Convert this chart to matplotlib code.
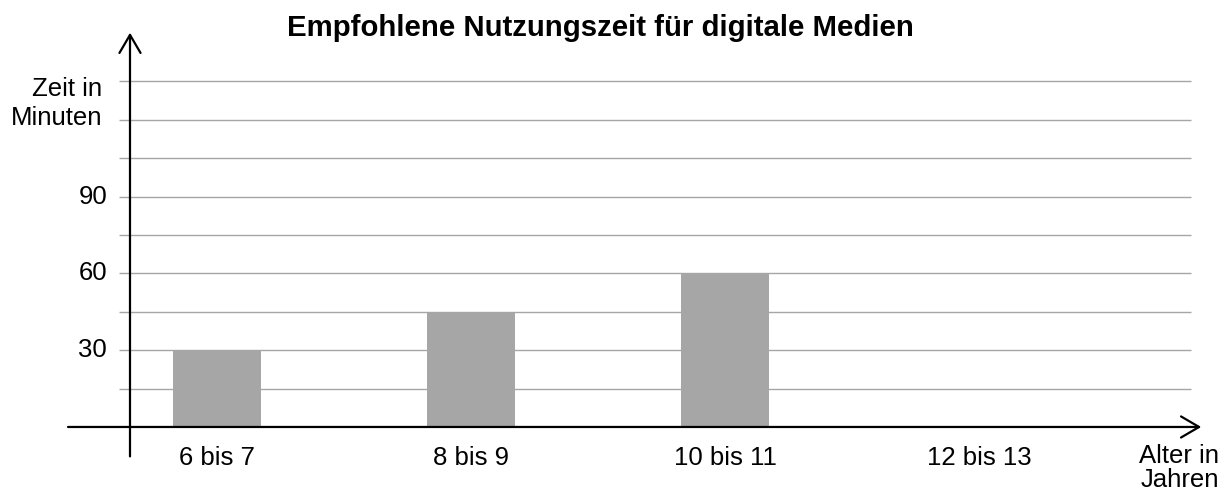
import numpy as np
import matplotlib.pyplot as plt

plt.rcParams['font.family'] = ['Liberation Sans', 'DejaVu Sans']

categories = ["6 bis 7", "8 bis 9", "10 bis 11", "12 bis 13"]
minutes = [30, 45, 60, 0]
grid_values = np.arange(15, 136, 15)
labelled_ticks = [30, 60, 90]

W, H = 1222, 493
fig = plt.figure(figsize=(W / 100, H / 100), dpi=100)

# axes box in pixels: x 68..1200, y 35..460 (from top)
ax = fig.add_axes([68 / W, (H - 460) / H, (1200 - 68) / W, (460 - 35) / H])
ax.set_xlim(-0.5866, 3.870)
ax.set_ylim(-12.9, 153.1)
ax.axis('off')

grey = '#a6a6a6'
x_axis_pos = -0.3425

# gridlines (also act as tick marks left of the y-axis)
ax.hlines(grid_values, -0.386, 3.835, color=grey, lw=1.0, zorder=1)

# bars
x = np.arange(len(categories))
ax.bar(x, minutes, width=0.343, color=grey, zorder=2)

# axes with open arrow heads
arrow = dict(arrowstyle='->,head_length=0.65,head_width=0.38', lw=1.6,
             color='black', mutation_scale=20, shrinkA=0, shrinkB=0)
ax.annotate('', xy=(3.875, 0), xytext=(-0.5866, 0), arrowprops=arrow,
            annotation_clip=False, zorder=3)
ax.annotate('', xy=(x_axis_pos, 154.0), xytext=(x_axis_pos, -11.5),
            arrowprops=arrow, annotation_clip=False, zorder=3)

fs = 18.5

# y tick labels
for v in labelled_ticks:
    ax.text(-0.433, v, str(v), ha='right', va='center', fontsize=fs)

# category labels
for i, c in enumerate(categories):
    ax.text(i, -12.3, c, ha='center', va='center', fontsize=fs)

# axis titles, one text per line (pixel baselines)
for txt, yb in [("Zeit in", 96), ("Minuten", 125)]:
    fig.text(102 / W, 1 - yb / H, txt, ha='right', va='baseline', fontsize=fs)
for txt, yb in [("Alter in", 463), ("Jahren", 487)]:
    fig.text(1219 / W, 1 - yb / H, txt, ha='right', va='baseline', fontsize=fs)

fig.text(600 / W, 1 - 28 / H, "Empfohlene Nutzungszeit für digitale Medien",
         ha='center', va='center', fontsize=21.2, fontweight='bold')

fig.savefig('out.png', dpi=100)
